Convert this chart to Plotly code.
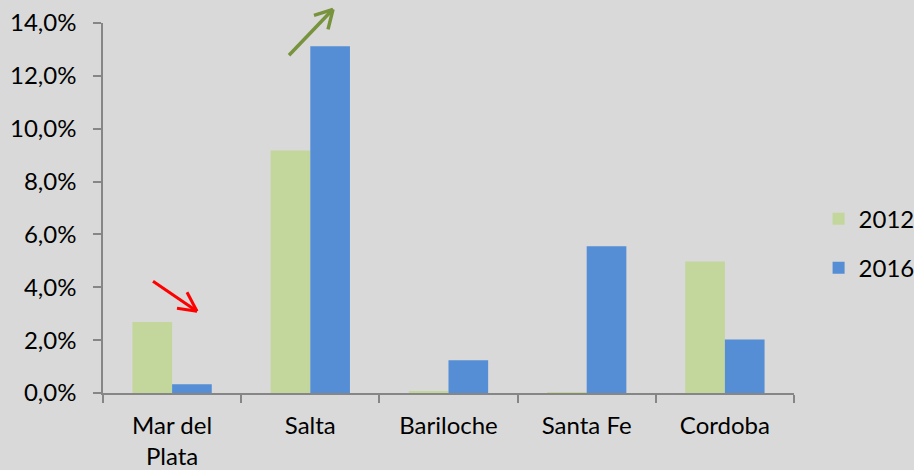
import plotly.graph_objects as go

categories = ["Mar del<br>Plata", "Salta", "Bariloche", "Santa Fe", "Cordoba"]
series_names = ["2012", "2016"]
values_2012 = [0.0269, 0.0918, 0.0004, 0.0003, 0.0498]
values_2016 = [0.0033, 0.1312, 0.0124, 0.0555, 0.0202]
y_ticks = [0, 0.02, 0.04, 0.06, 0.08, 0.10, 0.12, 0.14]

W, H = 914, 470
L, R, T, B = 103, 120, 22.7, 77.3
PW, PH = W - L - R, H - T - B

def px(x, y):
    # window pixel -> paper coords (for the decorative arrows)
    return (x - L) / PW, (H - B - y) / PH

font = dict(family="Lato, Open Sans, sans-serif", size=24, color="#000000")

fig = go.Figure()
fig.add_trace(go.Bar(x=categories, y=values_2012, name=series_names[0],
                     marker=dict(color="#C3D69B", line=dict(width=0)), legendgroup="a"))
fig.add_trace(go.Bar(x=categories, y=values_2016, name=series_names[1],
                     marker=dict(color="#558ED5", line=dict(width=0)), legendgroup="b"))

shapes = []
red = [((153, 281), (197, 311)), ((197, 311), (177, 308)), ((197, 311), (187, 292))]
green = [((289, 55), (333, 9)), ((333, 9), (314, 15)), ((333, 9), (328, 29))]
for segs, col, wd in [(red, "#FF0000", 3), (green, "#77933C", 3.5)]:
    for s in segs:
        (x0, y0), (x1, y1) = px(*s[0]), px(*s[1])
        shapes.append(dict(type="line", xref="paper", yref="paper", x0=x0, y0=y0, x1=x1, y1=y1,
                           line=dict(color=col, width=wd)))

fig.update_layout(
    width=W, height=H,
    margin=dict(l=L, r=R, t=T, b=B, pad=0, autoexpand=False),
    paper_bgcolor="#D9D9D9", plot_bgcolor="#D9D9D9",
    font=font,
    separators=", ",
    barmode="group", bargap=0.426, bargroupgap=0,
    showlegend=True,
    legend=dict(x=1.0356, xanchor="left", y=0.531, yanchor="top", bgcolor="rgba(0,0,0,0)",
                font=font, traceorder="grouped", tracegroupgap=15, itemwidth=30),
    shapes=shapes,
    xaxis=dict(showline=True, linecolor="#868686", linewidth=1.5, ticks="outside",
               tickson="boundaries", ticklen=8, tickcolor="#868686", tickwidth=1.5,
               showgrid=False, zeroline=False, ticklabelstandoff=10, automargin=False,
               ticklabeloverflow="allow"),
    yaxis=dict(range=[0, 0.14], tickvals=y_ticks, tickformat=".1%", showline=True,
               linecolor="#868686", linewidth=1.5, ticks="outside", ticklen=8,
               tickcolor="#868686", tickwidth=1.5, showgrid=False, zeroline=False,
               ticklabelstandoff=12, automargin=False, ticklabeloverflow="allow"),
)

fig.write_html(
    "out.html",
    config={"displayModeBar": False},
    post_script="document.body.style.margin='0';document.body.style.overflow='hidden';"
                "document.body.style.background='#D9D9D9';",
)
